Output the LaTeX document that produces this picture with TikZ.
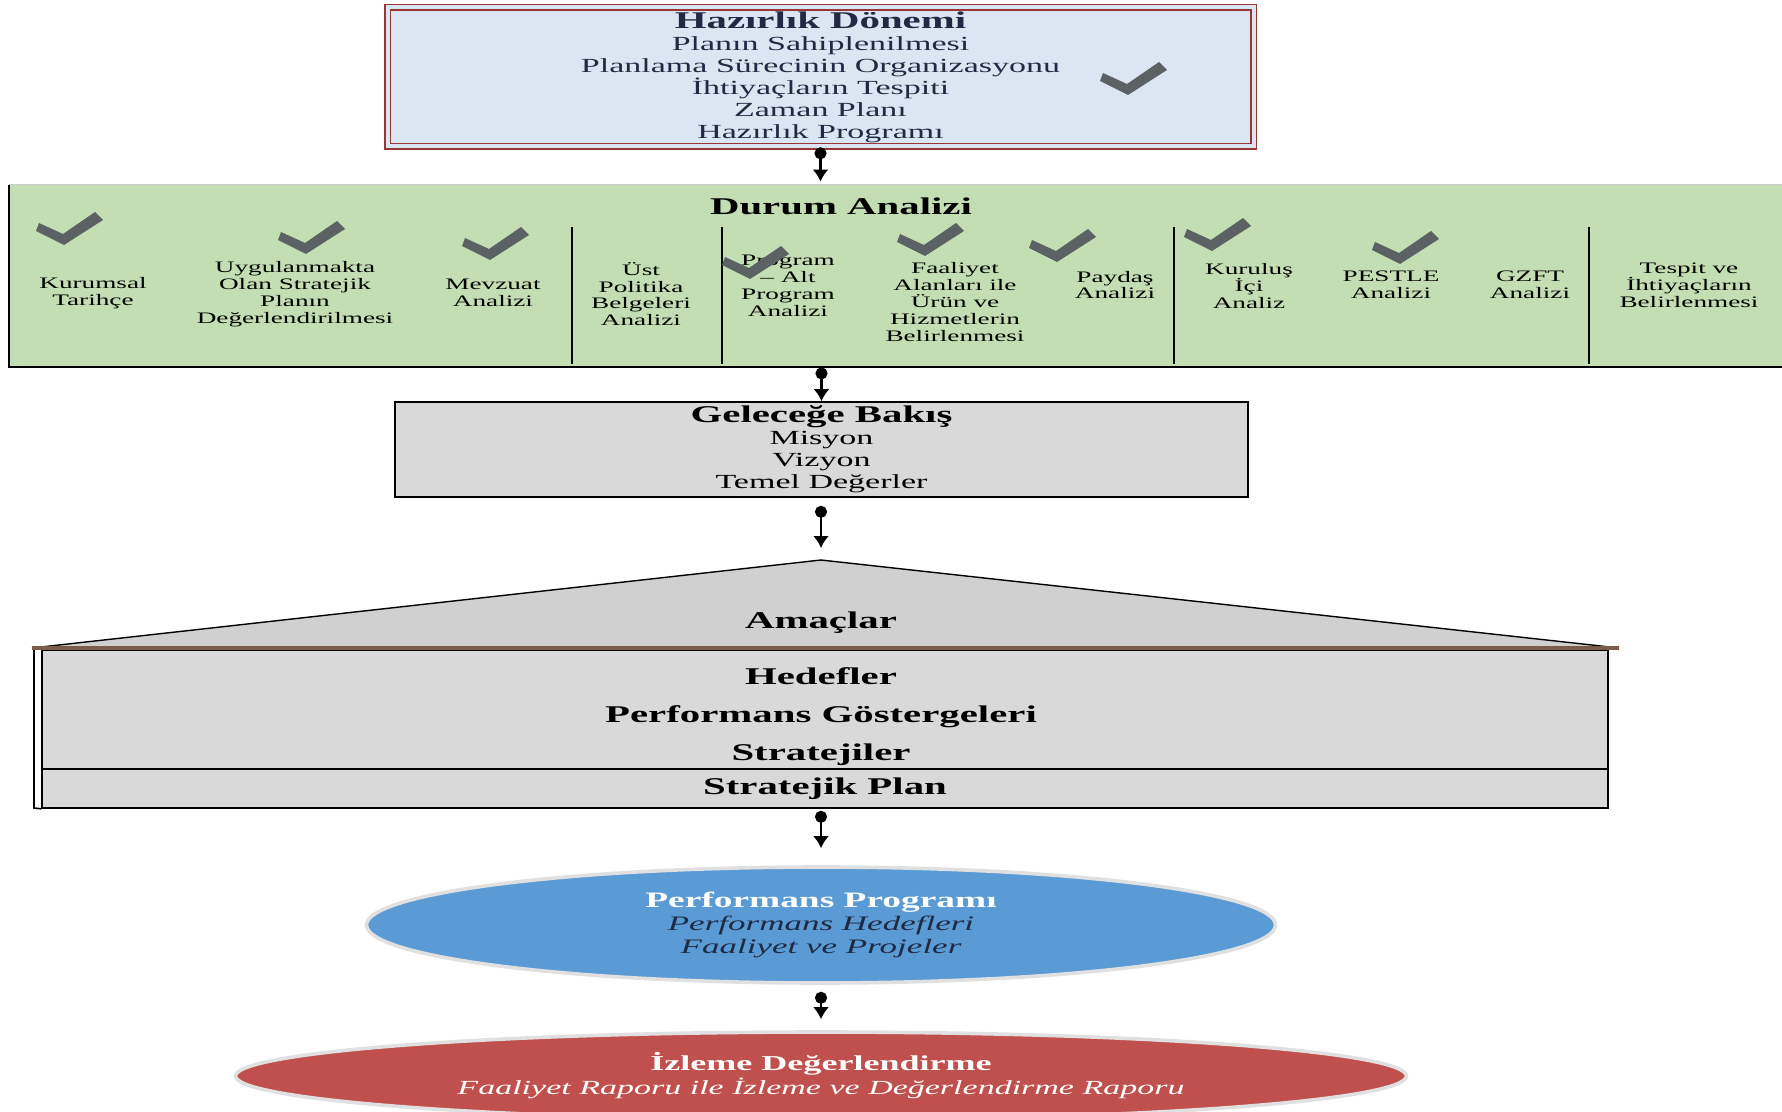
\documentclass[tikz,border=0pt]{standalone}
\usepackage{fontspec}
\setmainfont[FakeStretch=1.7]{Liberation Serif}
\usetikzlibrary{arrows.meta,positioning,shapes.geometric,calc}
\definecolor{hzred}{HTML}{953735}
\definecolor{hzfill}{HTML}{DCE6F2}
\definecolor{dmgreen}{HTML}{C4DEB3}
\definecolor{grfill}{HTML}{D9D9D9}
\definecolor{roofgray}{HTML}{D0D0D0}
\definecolor{roofline}{HTML}{7A5C4C}
\definecolor{pfblue}{HTML}{5B9BD5}
\definecolor{izred}{HTML}{C0504D}
\definecolor{chkgray}{HTML}{5C6264}
\definecolor{navy}{HTML}{1F2A44}
\newcommand{\baslik}[1]{{\fontsize{12}{13}\selectfont\bfseries #1}}
\tikzset{
 box/.style={draw,align=center,inner sep=0pt,font=\fontsize{10}{11}\selectfont},
 item/.style={align=center,inner sep=0pt,font=\fontsize{8}{8.4}\selectfont},
 head/.style={inner sep=0pt,font=\fontsize{12}{13}\selectfont\bfseries},
 oval/.style={ellipse,draw=black!12,line width=1.8pt,align=center,inner sep=0pt},
 arrow/.style={{Circle[length=6pt]}-{Latex[length=6pt,width=8pt]},line width=1.2pt},
 chk/.pic={\fill[chkgray] (-32,-6) -- (-8,5) -- (24,-17) -- (32,-9) -- (-7,16) -- (-35,2) -- cycle;}
}

\begin{document}
\begin{tikzpicture}[x=0.5pt,y=-0.5pt,node distance=5mm]
\useasboundingbox (0,0) rectangle (1782,1112);

\node[box,draw=hzred,line width=0.8pt,double=hzfill,double distance=2pt,fill=hzfill,
      minimum width=433pt,minimum height=69.5pt,text=navy] (hazirlik) at (820.5,77)
  {\baslik{Hazırlık Dönemi}\\Planın Sahiplenilmesi\\Planlama Sürecinin Organizasyonu\\
   İhtiyaçların Tespiti\\Zaman Planı\\Hazırlık Programı};

\node[fill=dmgreen,minimum width=886.5pt,minimum height=91pt,inner sep=0pt] (durum) at (895.5,276) {};
\draw[black!20] (durum.north west) -- (durum.north east);
\draw[line width=0.9pt] (durum.north west) -- (durum.south west) -- (durum.south east);
\node[head] (durumt) at (841,206) {Durum Analizi};
\foreach \x in {572,722,1174,1589} \draw[line width=0.9pt] (\x,227) -- (\x,364);

\node[item] (kt)  at (93,293)   {Kurumsal\\Tarihçe};
\node[item] (usp) at (295,294)  {Uygulanmakta\\Olan Stratejik\\Planın\\Değerlendirilmesi};
\node[item] (mev) at (493,293)  {Mevzuat\\Analizi};
\node[item] (ust) at (641,294)  {Üst\\Politika\\Belgeleri\\Analizi};
\node[item] (prg) at (788,286)  {Program\\-- Alt\\Program\\Analizi};
\node[item] (faa) at (955,302)  {Faaliyet\\Alanları ile\\Ürün ve\\Hizmetlerin\\Belirlenmesi};
\node[item] (pay) at (1115,285) {Paydaş\\Analizi};
\node[item] (kur) at (1249,286) {Kuruluş\\İçi\\Analiz};
\node[item] (pes) at (1391,285) {PESTLE\\Analizi};
\node[item] (gzf) at (1530,285) {GZFT\\Analizi};
\node[item] (tes) at (1689,285) {Tespit ve\\İhtiyaçların\\Belirlenmesi};

\foreach \x/\y in {71/229,313/238,497/244,757/263,932/240,1064/246,1219/235,1407/248,1135/79}
  \pic at (\x,\y) {chk};

\node[box,fill=grfill,line width=0.8pt,minimum width=426.5pt,minimum height=47.5pt] (gelecek) at (821.5,449.5)
  {\baslik{Geleceğe Bakış}\\Misyon\\Vizyon\\Temel Değerler};

\coordinate (tepe) at (821,560);
\fill[roofgray] (32,648) -- (tepe) -- (1619,648) -- cycle;
\draw[line width=0.7pt] (32,648) -- (tepe) -- (1619,648);
\node[head] (amac) at (821,623) {Amaçlar};

\node[draw,fill=grfill,line width=0.8pt,minimum width=783pt,minimum height=59.5pt,inner sep=0pt] (hedef) at (825,709.5) {};
\node[head,align=center,font=\fontsize{12}{19}\selectfont\bfseries] (hedeft) at (821,717)
  {Hedefler\\Performans Göstergeleri\\Stratejiler};
\node[draw,fill=grfill,line width=0.8pt,minimum width=783pt,minimum height=19.5pt,head] (plan) at (825,788.5) {Stratejik Plan};
\draw[roofline,line width=1.6pt] (32,648) -- (1619,648);
\draw[line width=0.8pt] (34,650) -- (34,808) -- (plan.south west);

\node[oval,fill=pfblue,minimum width=454.5pt,minimum height=58pt,text=navy,
      font=\fontsize{10.3}{11.5}\selectfont\itshape] (perf) at (821,925)
  {{\upshape\bfseries\fontsize{11}{12}\selectfont\textcolor{white}{Performans Programı}}\\
   Performans Hedefleri\\Faaliyet ve Projeler};
\node[oval,fill=izred,minimum width=585.5pt,minimum height=44pt,text=white,
      font=\fontsize{10}{12}\selectfont] (izle) at (821,1076)
  {{\bfseries\fontsize{10.6}{12}\selectfont İzleme Değerlendirme}\\
   \textit{Faaliyet Raporu ile İzleme ve Değerlendirme Raporu}};

\draw[arrow,shorten >=1.5pt] (hazirlik.south) -- (hazirlik.south |- durum.north);
\draw[arrow] (durum.south -| gelecek.north) -- (gelecek.north);
\draw[arrow,shorten <=4pt,shorten >=6pt] (tepe |- gelecek.south) -- (tepe);
\draw[arrow,shorten <=1pt,shorten >=8.5pt] (perf.north |- plan.south) -- (perf.north);
\draw[arrow,shorten <=3.5pt,shorten >=5.5pt] (perf.south) -- (izle.north);
\end{tikzpicture}
\end{document}
